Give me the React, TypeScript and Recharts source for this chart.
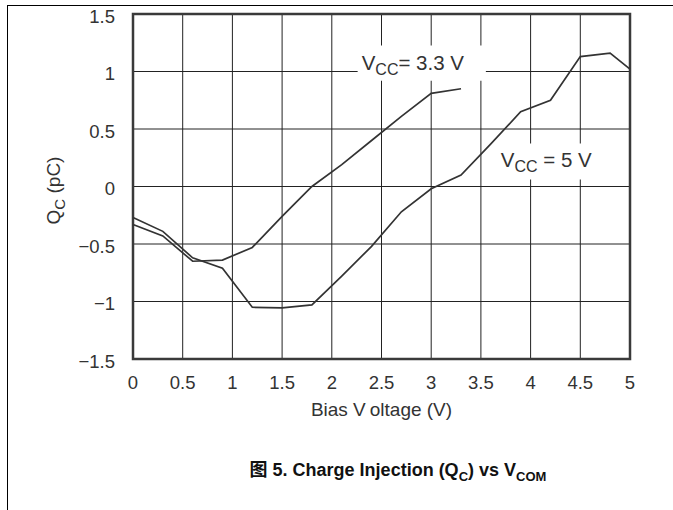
import { LineChart, Line, XAxis, YAxis, CartesianGrid, ReferenceArea } from 'recharts';

// Q_C (pC), VCC = 3.3 V
const vcc33Voltage = [0, 0.3, 0.6, 0.9, 1.2, 1.5, 1.8, 2.1, 2.4, 2.7, 3.0, 3.3];
const vcc33Charge = [-0.33, -0.43, -0.65, -0.64, -0.53, -0.26, 0.0, 0.19, 0.4, 0.61, 0.81, 0.85];

// VCC = 5 V
const vcc5Voltage = [0, 0.3, 0.6, 0.9, 1.2, 1.5, 1.8, 2.1, 2.4, 2.7, 3.0, 3.3, 3.6, 3.9, 4.2, 4.5, 4.8, 5.0];
const vcc5Charge = [-0.27, -0.39, -0.62, -0.71, -1.05, -1.055, -1.03, -0.78, -0.52, -0.22, -0.02, 0.1, 0.37, 0.65, 0.75, 1.13, 1.16, 1.02];

const xTicks = [0, 0.5, 1, 1.5, 2, 2.5, 3, 3.5, 4, 4.5, 5];
const xTickLabels = ['0', '0.5', '1', '1.5', '2', '2.5', '3', '3.5', '4', '4.5', '5'];
const yTicks = [-1.5, -1, -0.5, 0, 0.5, 1, 1.5];
const yTickLabels = ['\u22121.5', '\u22121', '\u22120.5', '0', '0.5', '1', '1.5'];

const vcc33Data = vcc33Voltage.map((v, i) => ({ v, q: vcc33Charge[i] }));
const vcc5Data = vcc5Voltage.map((v, i) => ({ v, q: vcc5Charge[i] }));

const font = '"Liberation Sans", Arial, "Noto Sans CJK SC", sans-serif';
const ink = '#333';

const vccLabel = (rest: string) => ({ viewBox }: any) => (
    <text x={viewBox.x + 4} y={viewBox.y + 24} fill={ink} fontSize={20.5} fontFamily={font}>
        V<tspan dy={5} fontSize={16}>CC</tspan><tspan dy={-5}>{rest}</tspan>
    </text>
);

const renderXTitle = ({ viewBox }: any) => (
    <text x={viewBox.x + viewBox.width / 2} y={viewBox.y + 57} textAnchor="middle"
        fill={ink} fontSize={19} fontFamily={font}>
        Bias V<tspan dx={5}>oltage (V)</tspan>
    </text>
);

const renderYTitle = ({ viewBox }: any) => {
    const cy = viewBox.y + viewBox.height / 2 + 4;
    return (
        <text transform={`translate(60,${cy}) rotate(-90)`} textAnchor="middle"
            fill={ink} fontSize={19} fontFamily={font}>
            Q<tspan dy={5} fontSize={15}>C</tspan><tspan dy={-5}> (pC)</tspan>
        </text>
    );
};

const App = () => {
    return (
        <div style={{ position: 'absolute', left: 0, top: 0, width: 673, height: 510, background: '#fff' }}>
            <div style={{ position: 'absolute', left: 7, top: 5, width: 666, height: 0, borderTop: '1.3px solid #000' }} />
            <div style={{ position: 'absolute', left: 7, top: 5, width: 0, height: 505, borderLeft: '1.3px solid #000' }} />
            <LineChart width={673} height={510} margin={{ top: 14, right: 43, left: 33, bottom: 121 }}>
                <CartesianGrid stroke="#222" strokeWidth={1} />
                <XAxis
                    type="number"
                    dataKey="v"
                    domain={[0, 5]}
                    ticks={xTicks}
                    tickFormatter={(value: number) => xTickLabels[xTicks.indexOf(value)]}
                    tickSize={0}
                    tickMargin={17}
                    height={30}
                    axisLine={false}
                    tick={{ fill: ink, fontSize: 18.5, fontFamily: font }}
                    label={renderXTitle} />
                <YAxis
                    type="number"
                    dataKey="q"
                    domain={[-1.5, 1.5]}
                    ticks={yTicks}
                    tickFormatter={(value: number) => yTickLabels[yTicks.indexOf(value)]}
                    tickSize={0}
                    tickMargin={18}
                    width={100}
                    axisLine={false}
                    tick={{ fill: ink, fontSize: 18.5, fontFamily: font, dy: 2 }}
                    label={renderYTitle} />
                <ReferenceArea x1={2.26} x2={3.55} y1={0.92} y2={1.226} fill="#fff" fillOpacity={1} stroke="none"
                    label={vccLabel('= 3.3 V')} />
                <ReferenceArea x1={3.66} x2={4.68} y1={0.06} y2={0.374} fill="#fff" fillOpacity={1} stroke="none"
                    label={vccLabel(' = 5 V')} />
                <ReferenceArea x1={0} x2={5} y1={-1.5} y2={1.5} fill="none" stroke="#3a3a3a" strokeWidth={2.5} />
                <Line data={vcc33Data} dataKey="q" type="linear" stroke={ink} strokeWidth={1.7}
                    dot={false} isAnimationActive={false} />
                <Line data={vcc5Data} dataKey="q" type="linear" stroke={ink} strokeWidth={1.7}
                    dot={false} isAnimationActive={false} />
            </LineChart>
            <div style={{
                position: 'absolute', left: 98, top: 455, width: 600, textAlign: 'center',
                fontFamily: font, fontWeight: 'bold', fontSize: 18, color: '#111'
            }}>
                图 5. Charge Injection (Q<sub style={{ fontSize: 13 }}>C</sub>) vs V<sub style={{ fontSize: 13 }}>COM</sub>
            </div>
        </div>
    );
};

export default App;
